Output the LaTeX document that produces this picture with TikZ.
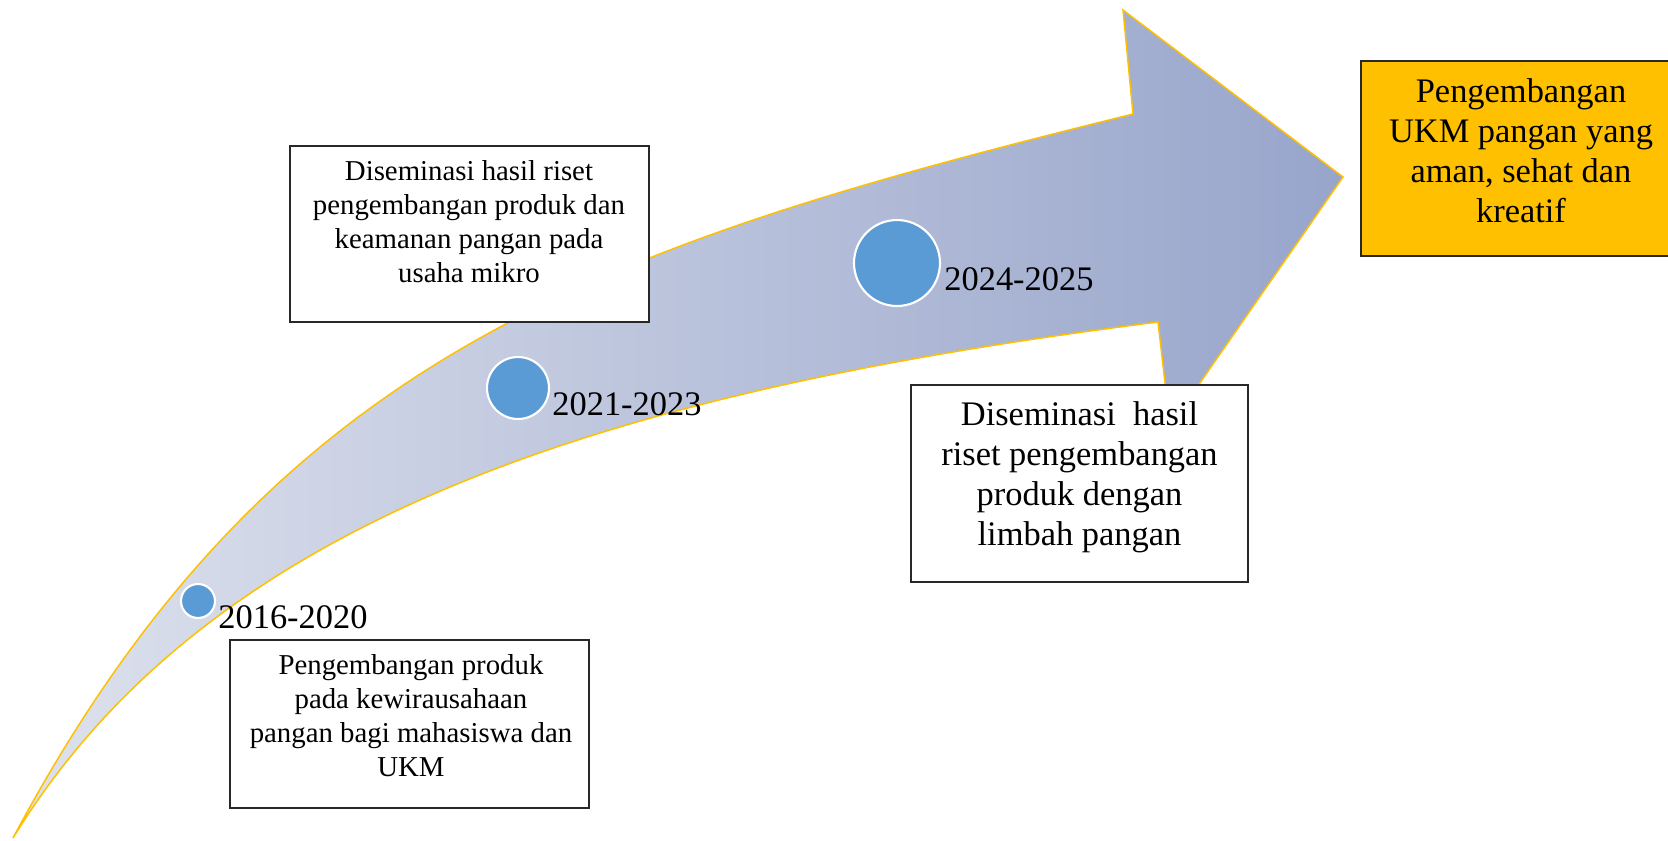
\documentclass[tikz,border=0pt]{standalone}
\usepackage{fontspec}
\setmainfont{Liberation Serif}
\definecolor{arrow_light}{RGB}{222,226,237}
\definecolor{arrow_dark}{RGB}{152,165,203}
\definecolor{edge_gold}{RGB}{255,192,0}
\definecolor{stage_blue}{RGB}{91,155,213}
\definecolor{box_gold}{RGB}{255,192,0}
\definecolor{box_gray}{RGB}{40,40,40}
\newcommand{\boxfontsmall}{\fontsize{16.4}{19.35}\selectfont}
\newcommand{\boxfontlarge}{\fontsize{19.6}{22.76}\selectfont}

\begin{document}
\begin{tikzpicture}[x=0.02cm,y=-0.02cm]
    \tikzstyle{box}=[draw=box_gray, line width=0.8pt, fill=white, rectangle, inner sep=0pt]
    \tikzstyle{goal}=[style=box, fill=box_gold]
    \tikzstyle{stage}=[draw=white, line width=1.2pt, circle, fill=stage_blue, inner sep=0pt]
    \tikzstyle{year}=[text=black, font=\boxfontlarge, inner sep=0pt, anchor=base west]
    \tikzstyle{smalltxt}=[text=black, align=center, font=\boxfontsmall, inner sep=0pt]
    \tikzstyle{largetxt}=[text=black, align=center, font=\boxfontlarge, inner sep=0pt]

    \useasboundingbox (0,0) rectangle (1668,840);

    % the curved arrow
    \draw[edge_gold, line width=0.85pt, left color=arrow_light, right color=arrow_dark]
      (13,838) .. controls (271,354) and (599,246) .. (1133,114)
      -- (1123,10) -- (1343,177) -- (1170,426) -- (1158,322)
      .. controls (613,391) and (211,515) .. (13,838)
      -- cycle;

    % stages
    \node[stage, minimum size=0.68cm] (s1) at (198,601) {};
    \node[stage, minimum size=1.24cm] (s2) at (518,388) {};
    \node[stage, minimum size=1.72cm] (s3) at (897,263) {};
    \node[year] (y1) at (218,628) {2016-2020};
    \node[year] (y2) at (552,415) {2021-2023};
    \node[year] (y3) at (944,290) {2024-2025};

    % boxes
    \node[box, minimum width=7.18cm, minimum height=3.36cm] (produk) at (409.5,724) {};
    \node[box, minimum width=7.18cm, minimum height=3.52cm] (riset) at (469.5,234) {};
    \node[box, minimum width=6.74cm, minimum height=3.94cm] (limbah) at (1079.5,483.5) {};
    \node[goal, minimum width=6.4cm, minimum height=3.9cm] (ukm) at (1521,158.5) {};

    \node[smalltxt] (produktext) at (411,716) {Pengembangan produk\\pada kewirausahaan\\pangan bagi mahasiswa dan\\UKM};
    \node[smalltxt] (risettext) at (469,222) {Diseminasi hasil riset\\pengembangan produk dan\\keamanan pangan pada\\usaha mikro};
    \node[largetxt] (limbahtext) at (1079.5,477) {Diseminasi\ \ hasil\\riset pengembangan\\produk dengan\\limbah pangan};
    \node[largetxt] (ukmtext) at (1521,151) {Pengembangan\\UKM pangan yang\\aman, sehat dan\\kreatif};
\end{tikzpicture}
\end{document}
